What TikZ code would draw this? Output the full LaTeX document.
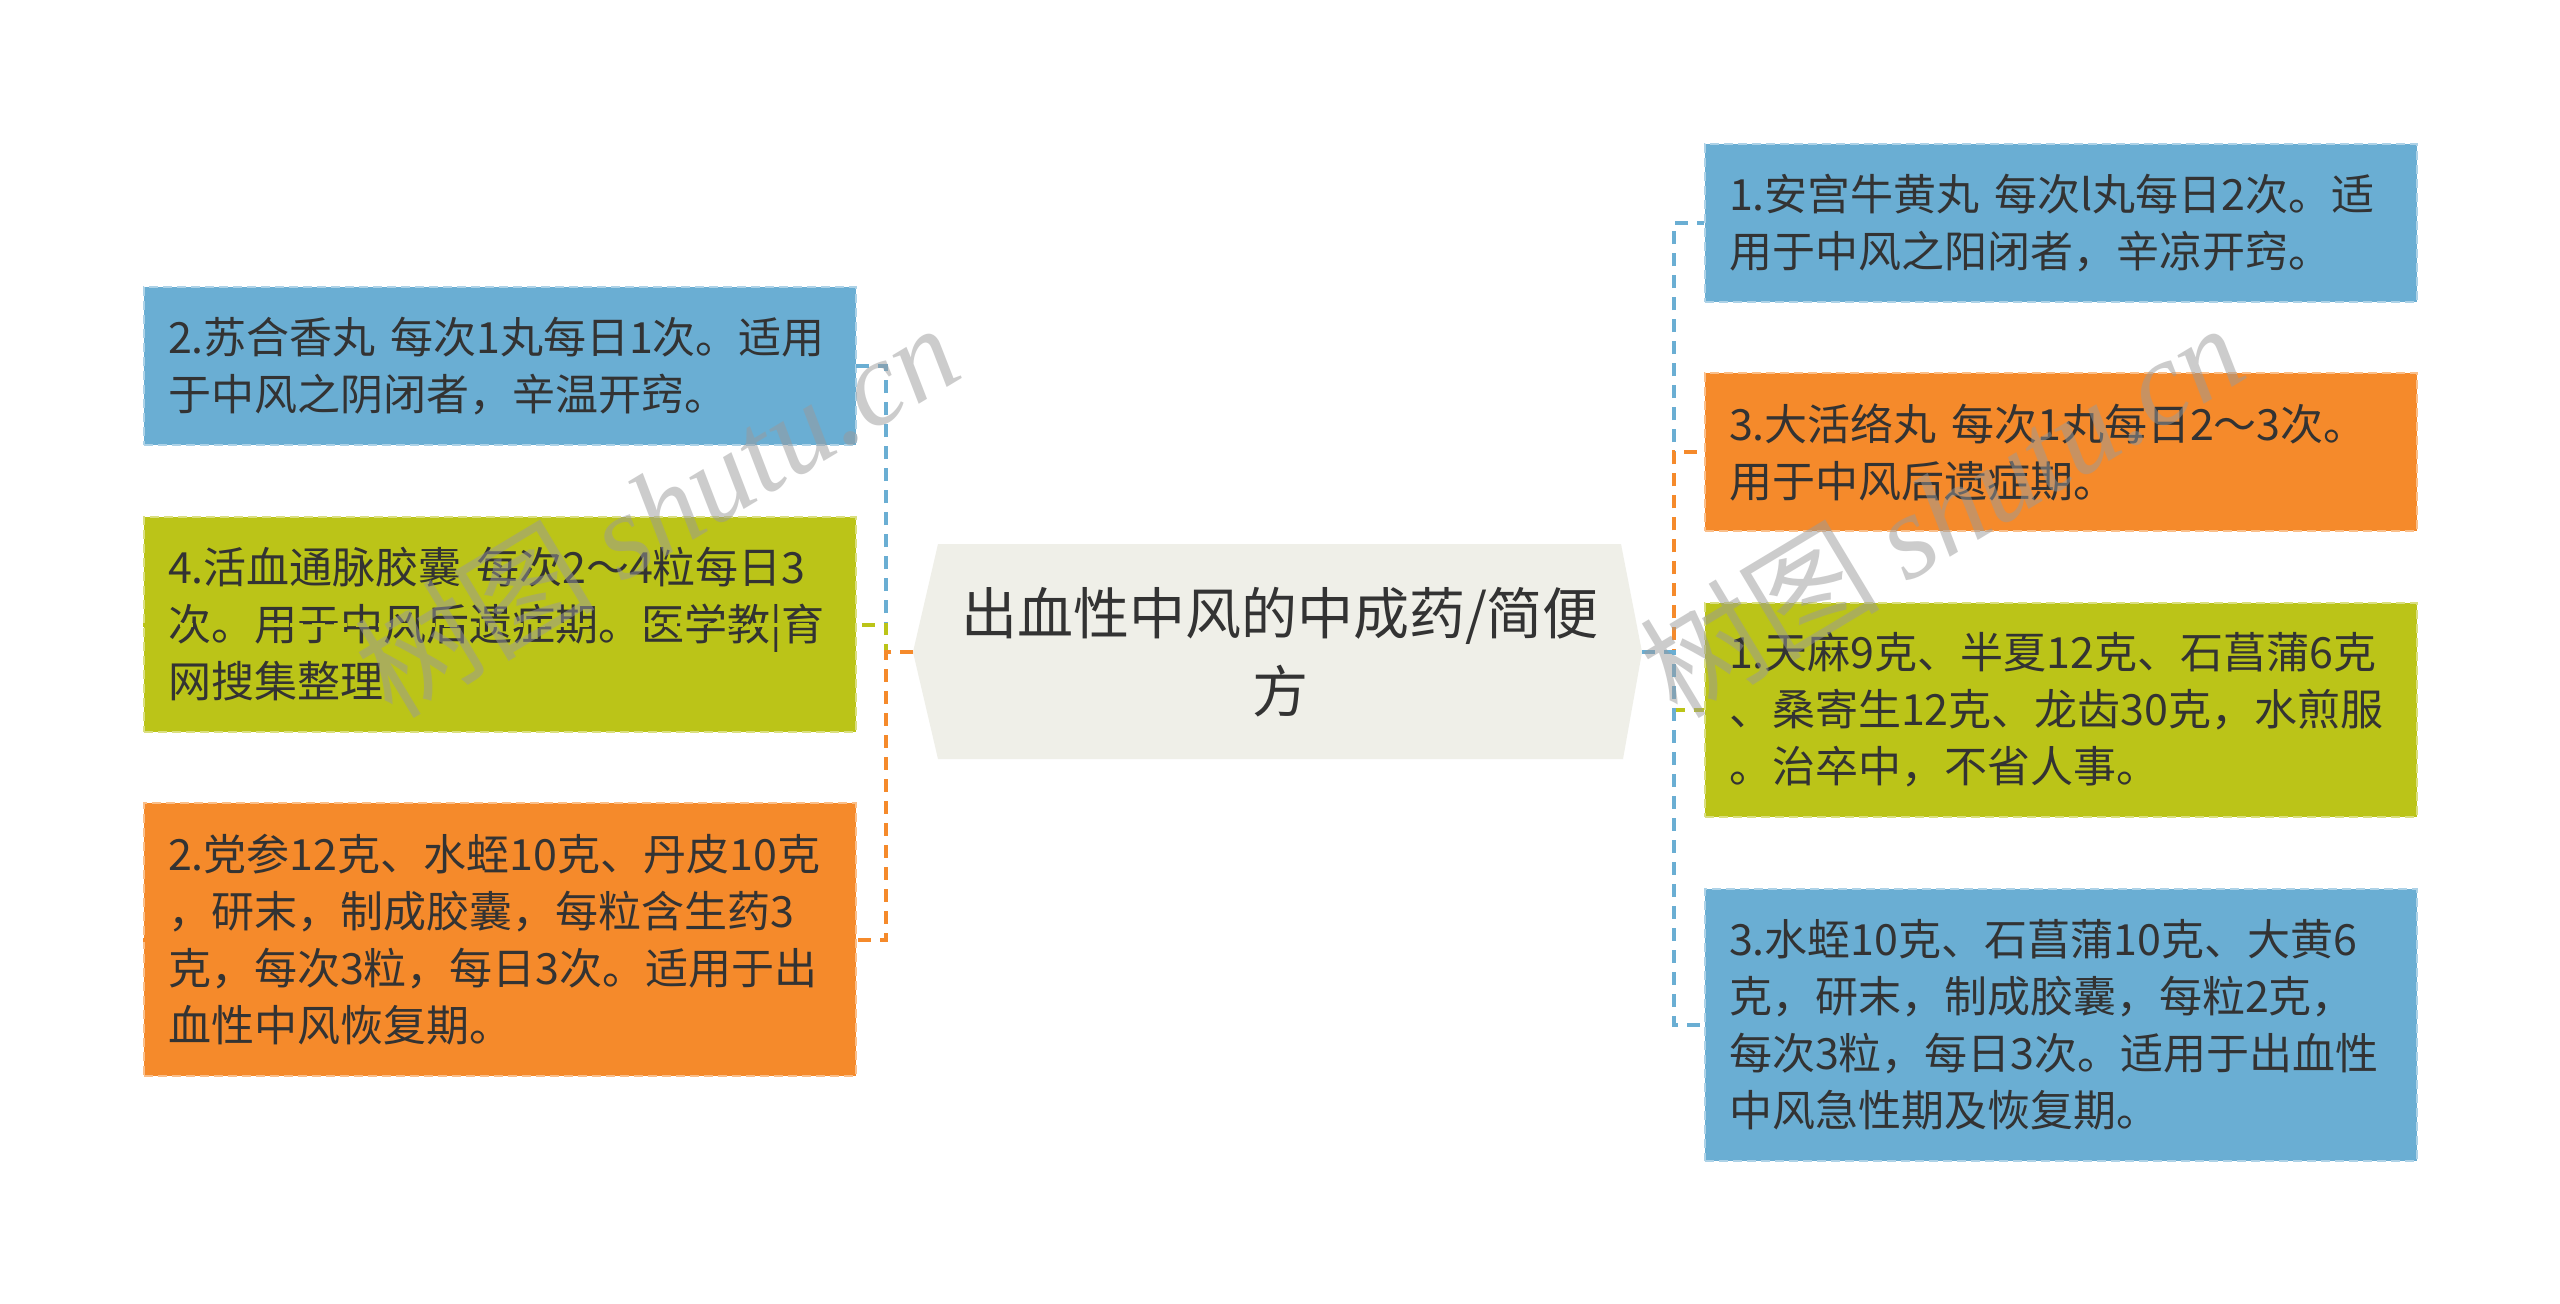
\documentclass[tikz,border=0pt]{standalone}
\usepackage{fontspec}
\setmainfont{Noto Sans CJK SC}
\newfontfamily\wmlatin{Liberation Serif}
\usetikzlibrary{calc}
\definecolor{cblue}{HTML}{6AAED3}
\definecolor{corange}{HTML}{F58A2B}
\definecolor{cgreen}{HTML}{BBC418}
\definecolor{croot}{HTML}{EFEFE8}
\definecolor{ctext}{HTML}{333333}
\definecolor{cwm}{HTML}{9A9A9A}
\begin{document}
\begin{tikzpicture}[x=1pt,y=-1pt,
  leaf/.style={minimum width=712pt, minimum height=#1, text width=664pt,
    inner xsep=24pt, inner ysep=0pt, align=left, anchor=north west,
    font=\fontsize{43pt}{57pt}\selectfont, text=ctext,
    line width=2pt, dash pattern=on 9pt off 5pt},
  bluebox/.style={leaf=#1, fill=cblue, draw=cblue!55!white},
  orangebox/.style={leaf=#1, fill=corange, draw=corange!55!white},
  greenbox/.style={leaf=#1, fill=cgreen, draw=cgreen!55!white},
  link/.style={line width=4pt, dash pattern=on 13pt off 9pt},
  watermark/.style={rotate=31, text=cwm, opacity=0.5,
    font=\fontsize{120pt}{120pt}\selectfont}
]
\fill[white] (0,0) rectangle (2560,1304);
\useasboundingbox (0,0) rectangle (2560,1304);

% root
\fill[croot] (938,544) -- (1621,544) -- (1642,652) -- (1623,759) -- (938,759) -- (913,652) -- cycle;
\node[font=\fontsize{56pt}{78pt}\selectfont, text width=700pt, align=center, text=ctext] (root) at (1280,652) {出血性中风的中成药/简便\\方};
\coordinate (rootL) at (913,652);
\coordinate (rootR) at (1642,652);
\coordinate (jL) at (886,652);
\coordinate (jR) at (1674,652);

% left leaves
\node[bluebox=158pt] (L1) at (143,286) {2.苏合香丸~每次1丸每日1次。适用\\于中风之阴闭者，辛温开窍。};
\node[greenbox=215pt] (L2) at (143,516) {4.活血通脉胶囊~每次2～4粒每日3\\次。用于中风后遗症期。医学教|育\\网搜集整理};
\node[orangebox=273pt] (L3) at (143,802) {2.党参12克、水蛭10克、丹皮10克\\，研末，制成胶囊，每粒含生药3\\克，每次3粒，每日3次。适用于出\\血性中风恢复期。};

% right leaves
\node[bluebox=158pt] (R1) at (1704,143) {1.安宫牛黄丸~每次l丸每日2次。适\\用于中风之阳闭者，辛凉开窍。};
\node[orangebox=158pt] (R2) at (1704,372) {3.大活络丸~每次1丸每日2～3次。\\用于中风后遗症期。};
\node[greenbox=214pt] (R3) at (1704,602) {1.天麻9克、半夏12克、石菖蒲6克\\、桑寄生12克、龙齿30克，水煎服\\。治卒中，不省人事。};
\node[bluebox=272pt] (R4) at (1704,888) {3.水蛭10克、石菖蒲10克、大黄6\\克，研末，制成胶囊，每粒2克，\\每次3粒，每日3次。适用于出血性\\中风急性期及恢复期。};

% connectors left
\draw[link, cblue] (rootL) -- (jL) |- (L1.west);
\draw[link, cgreen] (rootL) -- (jL) |- (L2.west);
\draw[link, corange] (rootL) -- (jL) |- (L3.west);
% connectors right
\draw[link, cblue] (rootR) -- (jR) |- (R1.west);
\draw[link, corange] (rootR) -- (jR) |- (R2.west);
\draw[link, cgreen] (rootR) -- (jR) |- (R3.west);
\draw[link, cblue] (rootR) -- (jR) |- (R4.west);

% watermarks
\node[watermark] (wm1) at (656,509) {树图~{\wmlatin\itshape shutu.cn}};
\node[watermark] (wm2) at (1941,509) {树图~{\wmlatin\itshape shutu.cn}};
\end{tikzpicture}
\end{document}
